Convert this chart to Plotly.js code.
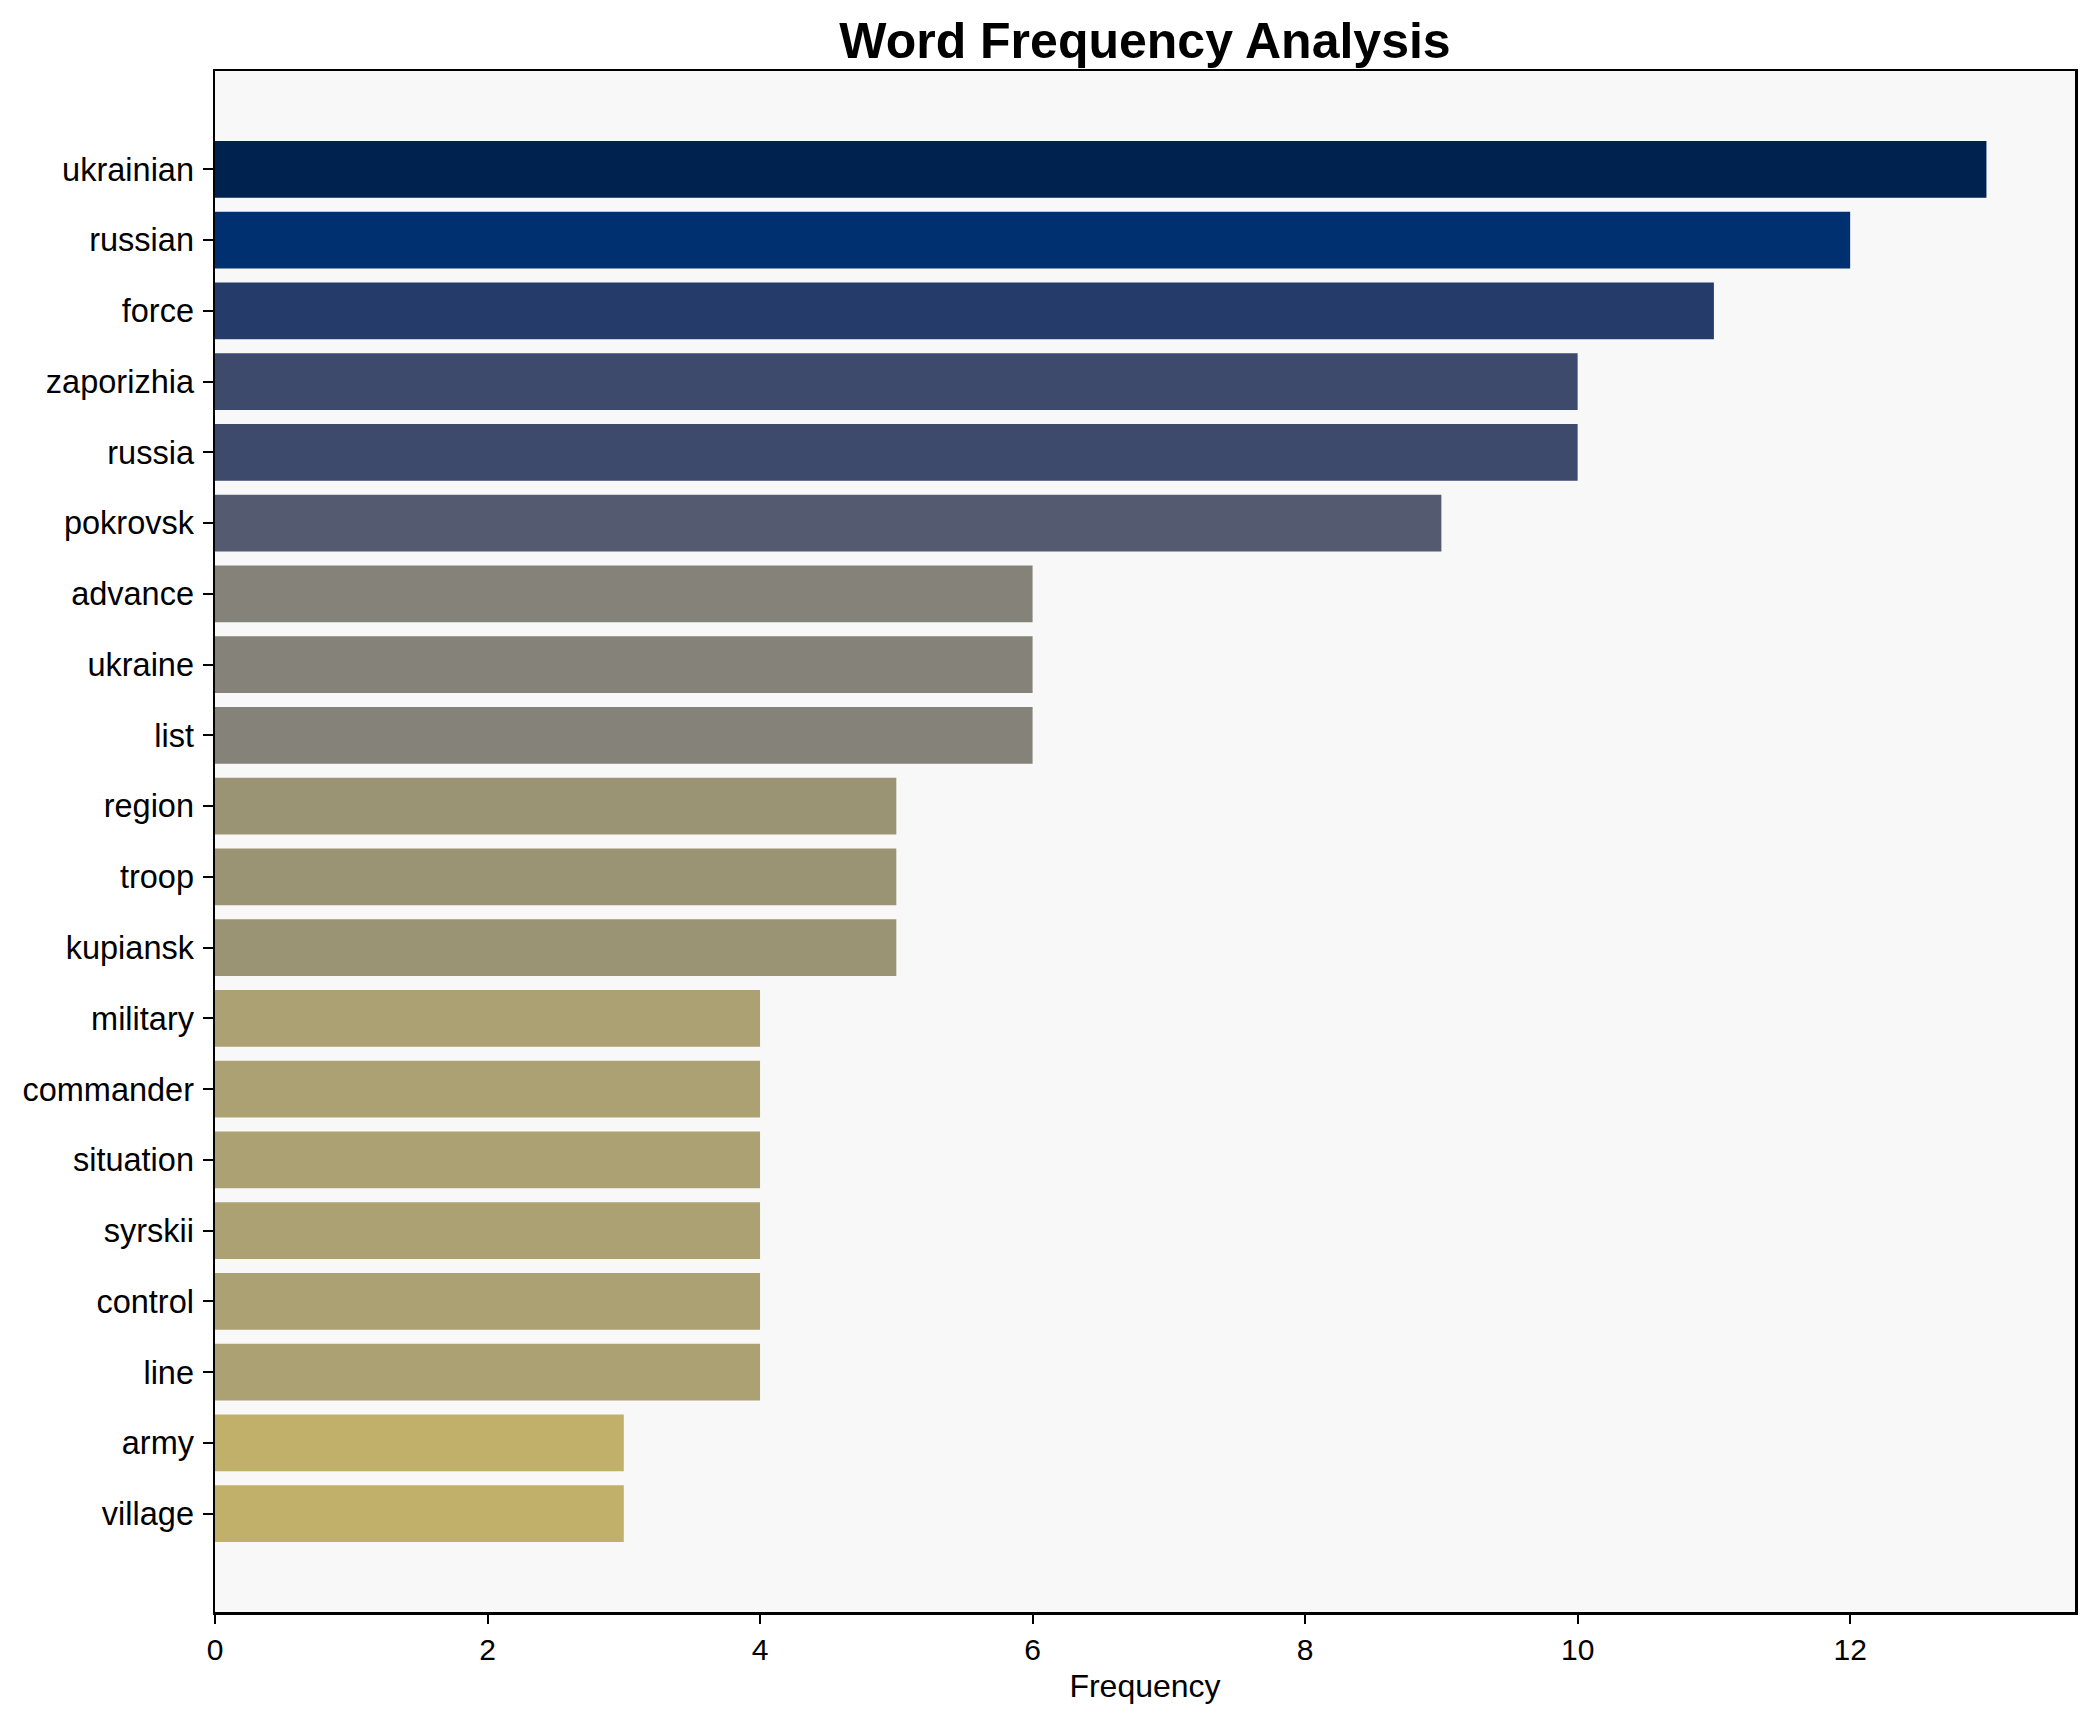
<!DOCTYPE html>
<html>
<head>
<meta charset="utf-8">
<script src="https://cdn.plot.ly/plotly-3.0.1.min.js"></script>
<style>html,body{margin:0;padding:0;background:#fff;}#chart{width:2095px;height:1722px;}</style>
</head>
<body>
<div id="chart"></div>
<script>
const words = ["ukrainian","russian","force","zaporizhia","russia","pokrovsk","advance","ukraine","list","region","troop","kupiansk","military","commander","situation","syrskii","control","line","army","village"];
const frequencies = [13,12,11,10,10,9,6,6,6,5,5,5,4,4,4,4,4,4,3,3];
const barColors = ["#00224e","#00306f","#253c6b","#3d4a6c","#3d4a6c","#545b70","#858279","#858279","#858279","#9a9474","#9a9474","#9a9474","#aca172","#aca172","#aca172","#aca172","#aca172","#aca172","#c1b06a","#c1b06a"];
const xTicks = [0,2,4,6,8,10,12];

const FONT = "Liberation Sans, Arial, Helvetica, sans-serif";

const trace = {
  type: "bar",
  orientation: "h",
  x: frequencies,
  y: words,
  marker: {color: barColors, line: {width: 0}},
  hoverinfo: "x+y"
};

const layout = {
  width: 2095,
  height: 1722,
  margin: {l: 215, r: 20, t: 71, b: 110},
  paper_bgcolor: "#ffffff",
  plot_bgcolor: "#f8f8f8",
  bargap: 0.2,
  showlegend: false,
  font: {family: FONT, color: "#000000", size: 32},
  title: {
    text: "<b>Word Frequency Analysis</b>",
    font: {family: FONT, size: 50, color: "#000000"},
    x: 0.5,
    xanchor: "center",
    xref: "paper",
    yref: "container",
    y: 1 - 40 / 1722,
    yanchor: "middle"
  },
  xaxis: {
    range: [0, 13.65],
    tickvals: xTicks,
    ticktext: xTicks.map(String),
    ticks: "outside",
    ticklen: 9,
    tickwidth: 2,
    tickcolor: "#000",
    tickfont: {family: FONT, size: 30, color: "#000"},
    showgrid: false,
    zeroline: false,
    showline: true,
    linecolor: "#000",
    linewidth: 2.5,
    mirror: true,
    title: {text: "Frequency", font: {family: FONT, size: 32, color: "#000"}, standoff: 10}
  },
  yaxis: {
    type: "category",
    categoryorder: "array",
    categoryarray: words,
    range: [20.39, -1.39],
    ticks: "outside",
    ticklen: 10,
    tickwidth: 2,
    tickcolor: "#000",
    ticklabelstandoff: 2,
    tickfont: {family: FONT, size: 32.5, color: "#000"},
    showgrid: false,
    zeroline: false,
    showline: true,
    linecolor: "#000",
    linewidth: 2.5,
    mirror: true
  }
};

Plotly.newPlot("chart", [trace], layout, {displayModeBar: false, staticPlot: true});
</script>
</body>
</html>
